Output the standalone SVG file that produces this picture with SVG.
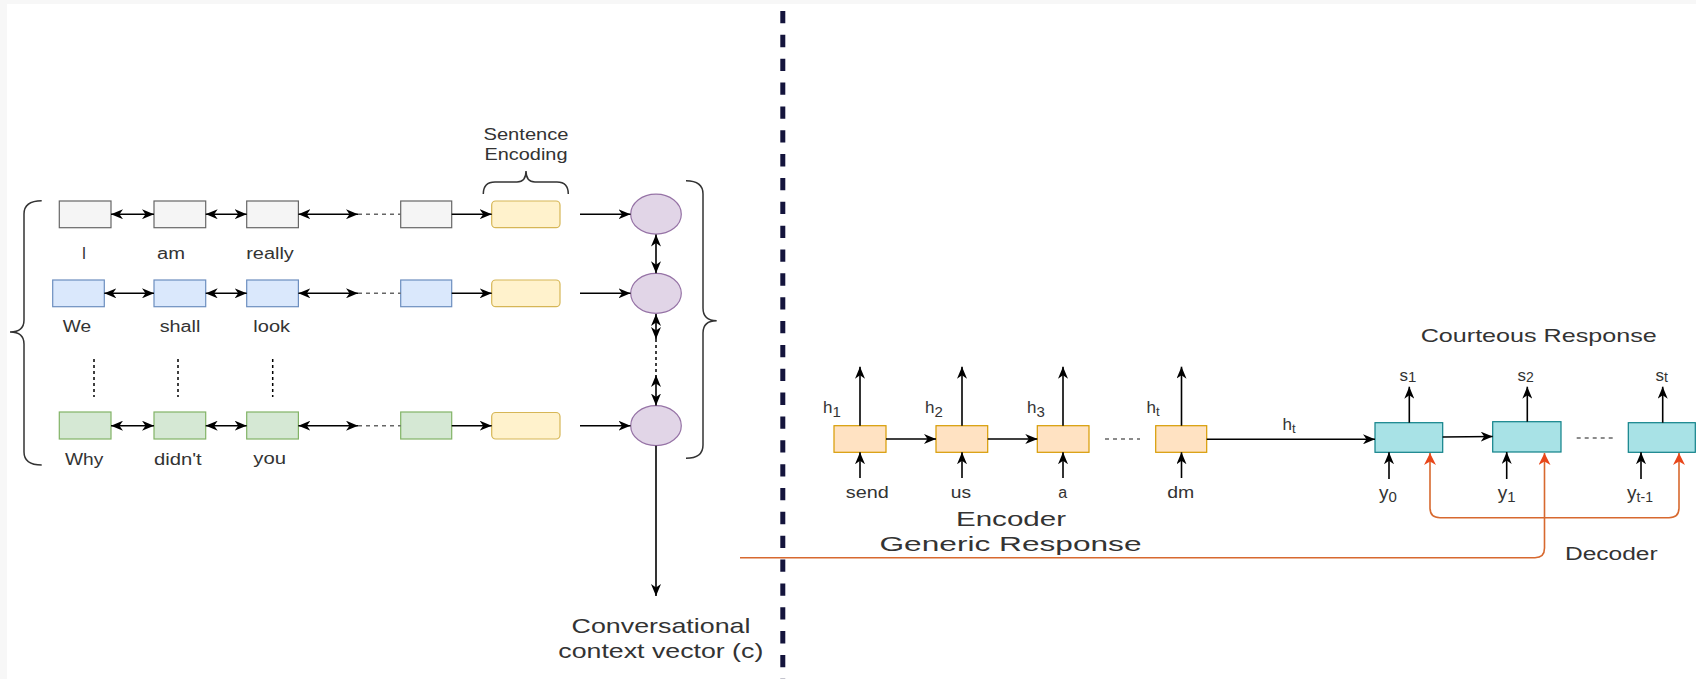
<svg xmlns="http://www.w3.org/2000/svg" width="1696" height="679" viewBox="0 0 1696 679">
<defs>
<marker id="ah" viewBox="0 0 12 10" refX="12" refY="5" markerWidth="12" markerHeight="10" markerUnits="userSpaceOnUse" orient="auto-start-reverse"><path d="M0,0 L12,5 L0,10 L3.5,5 z" fill="#000"/></marker>
<marker id="ao" viewBox="0 0 12 12" refX="12" refY="6" markerWidth="12" markerHeight="12" markerUnits="userSpaceOnUse" orient="auto-start-reverse"><path d="M0,0 L12,6 L0,12 L3.5,6 z" fill="#e8461a"/></marker>
<style>
.t{font-family:"Liberation Sans",Arial,sans-serif;fill:#333}
.s{font-size:16px;text-anchor:middle}
.m{font-size:17px;text-anchor:middle}
.big{font-size:21px;text-anchor:middle}
.lab{font-size:17px}
.gray{fill:#f5f5f5;stroke:#666;stroke-width:1.2}
.blue{fill:#dae8fc;stroke:#6c8ebf;stroke-width:1.2}
.green{fill:#d5e8d4;stroke:#82b366;stroke-width:1.2}
.yel{fill:#fff2cc;stroke:#d6b656;stroke-width:1.2}
.pur{fill:#e1d5e7;stroke:#9673a6;stroke-width:1.2}
.enc{fill:#ffe2c2;stroke:#d79b00;stroke-width:1.2}
.dec{fill:#a8e2e6;stroke:#0e8088;stroke-width:1.2}
.ln{stroke:#000;stroke-width:1.6;fill:none}
.dbl{marker-start:url(#ah);marker-end:url(#ah)}
.one{marker-end:url(#ah)}
.dsh{stroke:#666;stroke-width:1.5;stroke-dasharray:4 4;fill:none}
.dot{stroke:#000;stroke-width:1.5;stroke-dasharray:3 3;fill:none}
.or{stroke:#d7692f;stroke-width:1.6;fill:none}
.brace{stroke:#333;stroke-width:1.5;fill:none}
</style>
</defs>
<rect x="0" y="0" width="1696" height="679" fill="#f7f7f7"/>
<rect x="7" y="4" width="1689" height="675" fill="#ffffff"/>

<!-- divider -->
<line x1="782.8" y1="6" x2="782.8" y2="679" stroke="#14143c" stroke-width="5" stroke-dasharray="12.3 11.55" stroke-dashoffset="-5"/>

<!-- left: sentence rows -->
<g id="row1">
<rect class="gray" x="59.3" y="201" width="51.7" height="26.7"/>
<rect class="gray" x="154" y="201" width="51.7" height="26.7"/>
<rect class="gray" x="246.7" y="201" width="51.7" height="26.7"/>
<rect class="gray" x="400.7" y="201" width="51" height="26.7"/>
<text class="t s" x="84" y="259">I</text>
<text class="t s" x="171" y="259" textLength="28" lengthAdjust="spacingAndGlyphs">am</text>
<text class="t s" x="270" y="259" textLength="47.6" lengthAdjust="spacingAndGlyphs">really</text>
</g>
<g id="row2">
<rect class="blue" x="52.7" y="280" width="51.6" height="26.7"/>
<rect class="blue" x="154" y="280" width="51.7" height="26.7"/>
<rect class="blue" x="246.7" y="280" width="51.7" height="26.7"/>
<rect class="blue" x="400.7" y="280" width="51" height="26.7"/>
<text class="t s" x="77" y="332" textLength="28.3" lengthAdjust="spacingAndGlyphs">We</text>
<text class="t s" x="180" y="332" textLength="40.7" lengthAdjust="spacingAndGlyphs">shall</text>
<text class="t s" x="271.7" y="332" textLength="36.7" lengthAdjust="spacingAndGlyphs">look</text>
</g>
<g id="row3">
<rect class="green" x="59.3" y="412" width="51.7" height="27"/>
<rect class="green" x="154" y="412" width="51.7" height="27"/>
<rect class="green" x="246.7" y="412" width="51.7" height="27"/>
<rect class="green" x="400.7" y="412" width="51" height="27"/>
<text class="t s" x="84.2" y="465" textLength="38.3" lengthAdjust="spacingAndGlyphs">Why</text>
<text class="t s" x="177.8" y="465" textLength="47.7" lengthAdjust="spacingAndGlyphs">didn't</text>
<text class="t s" x="269.7" y="464" textLength="32.7" lengthAdjust="spacingAndGlyphs">you</text>
</g>
<g id="sentence-encoding">
<rect class="yel" x="491.7" y="201" width="68.3" height="26.7" rx="4"/>
<rect class="yel" x="491.7" y="280" width="68.3" height="26.7" rx="4"/>
<rect class="yel" x="491.7" y="412.5" width="68.3" height="26.5" rx="4"/>
<text class="t m" x="526" y="140" textLength="85" lengthAdjust="spacingAndGlyphs">Sentence</text>
<text class="t m" x="526" y="159.5" textLength="83" lengthAdjust="spacingAndGlyphs">Encoding</text>
<path class="brace" d="M483.3,194 Q483.3,182 495,182 L517,182 Q526,182 526,171 Q526,182 535,182 L557,182 Q568.3,182 568.3,194"/>
</g>
<g id="context">
<ellipse class="pur" cx="656" cy="214.2" rx="25.3" ry="20"/>
<ellipse class="pur" cx="656" cy="293.3" rx="25.3" ry="20"/>
<ellipse class="pur" cx="656" cy="425.7" rx="25.3" ry="20"/>
<text class="t big" x="661" y="633" textLength="179" lengthAdjust="spacingAndGlyphs">Conversational</text>
<text class="t big" x="660.8" y="658.3" textLength="205" lengthAdjust="spacingAndGlyphs">context vector (c)</text>
</g>
<g id="braces">
<path class="brace" d="M41.7,200.7 Q24,200.7 24,214 L24,320 Q24,332 10,332 Q24,332 24,344 L24,452 Q24,465 41.7,465"/>
<path class="brace" d="M686,180.7 Q703,180.7 703,194 L703,308 Q703,320.7 716.7,320.7 Q703,320.7 703,333 L703,445 Q703,458.3 686,458.3"/>
</g>
<g id="vdots">
<line class="dot" x1="94" y1="359" x2="94" y2="397"/>
<line class="dot" x1="178" y1="359" x2="178" y2="397"/>
<line class="dot" x1="272.7" y1="359" x2="272.7" y2="397"/>
</g>

<!-- encoder -->
<g id="encoder">
<rect class="enc" x="834" y="425.7" width="52" height="26.6"/>
<rect class="enc" x="936" y="425.7" width="51.7" height="26.6"/>
<rect class="enc" x="1037.3" y="425.7" width="51.7" height="26.6"/>
<rect class="enc" x="1155.7" y="425.7" width="51" height="26.6"/>
<text class="t lab" x="823" y="413">h<tspan font-size="15" dy="4">1</tspan></text>
<text class="t lab" x="925" y="413">h<tspan font-size="15" dy="4">2</tspan></text>
<text class="t lab" x="1027" y="413">h<tspan font-size="15" dy="4">3</tspan></text>
<text class="t lab" x="1146.5" y="413">h<tspan font-size="13" dy="3">t</tspan></text>
<text class="t s" x="867.3" y="498" textLength="43" lengthAdjust="spacingAndGlyphs">send</text>
<text class="t s" x="961" y="498" textLength="20.3" lengthAdjust="spacingAndGlyphs">us</text>
<text class="t s" x="1062.7" y="498">a</text>
<text class="t s" x="1180.7" y="498" textLength="27" lengthAdjust="spacingAndGlyphs">dm</text>
<text class="t big" x="1011" y="526" textLength="110" lengthAdjust="spacingAndGlyphs">Encoder</text>
<text class="t big" x="1010.5" y="551" textLength="262" lengthAdjust="spacingAndGlyphs">Generic Response</text>
</g>

<!-- decoder -->
<g id="decoder">
<rect class="dec" x="1375" y="422.7" width="67.7" height="29.6"/>
<rect class="dec" x="1492.7" y="421.7" width="68.3" height="30.3"/>
<rect class="dec" x="1628.3" y="422.7" width="67" height="29.6"/>
<text class="t lab" x="1282.5" y="430">h<tspan font-size="13" dy="3">t</tspan></text>
<text class="t lab" x="1399.5" y="380.7">s<tspan font-size="15" dy="1">1</tspan></text>
<text class="t lab" x="1517.5" y="380.7">s<tspan font-size="14" dy="1">2</tspan></text>
<text class="t lab" x="1655.5" y="380.7">s<tspan font-size="14" dy="1">t</tspan></text>
<text class="t" font-size="19" text-anchor="middle" x="1388" y="499">y<tspan font-size="15" dy="3">0</tspan></text>
<text class="t" font-size="19" text-anchor="middle" x="1506.7" y="499">y<tspan font-size="15" dy="3">1</tspan></text>
<text class="t" font-size="19" text-anchor="middle" x="1640" y="499">y<tspan font-size="14" dy="3">t-1</tspan></text>
<text class="t" font-size="19" text-anchor="middle" x="1538.7" y="341.7" textLength="236" lengthAdjust="spacingAndGlyphs">Courteous Response</text>
<text class="t" font-size="18" text-anchor="middle" x="1611.3" y="560" textLength="92.7" lengthAdjust="spacingAndGlyphs">Decoder</text>
</g>

<g id="connectors">
<!-- row 1 -->
<line class="ln dbl" x1="111" y1="214.2" x2="154" y2="214.2"/>
<line class="ln dbl" x1="205.7" y1="214.2" x2="246.7" y2="214.2"/>
<line class="ln dbl" x1="298.4" y1="214.2" x2="358" y2="214.2"/>
<line class="dsh" x1="358" y1="214.2" x2="400.7" y2="214.2"/>
<line class="ln one" x1="451.7" y1="214.2" x2="491.7" y2="214.2"/>
<line class="ln one" x1="580" y1="214.2" x2="630.5" y2="214.2"/>
<!-- row 2 -->
<line class="ln dbl" x1="104.3" y1="293.3" x2="154" y2="293.3"/>
<line class="ln dbl" x1="205.7" y1="293.3" x2="246.7" y2="293.3"/>
<line class="ln dbl" x1="298.4" y1="293.3" x2="358" y2="293.3"/>
<line class="dsh" x1="358" y1="293.3" x2="400.7" y2="293.3"/>
<line class="ln one" x1="451.7" y1="293.3" x2="491.7" y2="293.3"/>
<line class="ln one" x1="580" y1="293.3" x2="630.5" y2="293.3"/>
<!-- row 3 -->
<line class="ln dbl" x1="111" y1="425.7" x2="154" y2="425.7"/>
<line class="ln dbl" x1="205.7" y1="425.7" x2="246.7" y2="425.7"/>
<line class="ln dbl" x1="298.4" y1="425.7" x2="358" y2="425.7"/>
<line class="dsh" x1="358" y1="425.7" x2="400.7" y2="425.7"/>
<line class="ln one" x1="451.7" y1="425.7" x2="491.7" y2="425.7"/>
<line class="ln one" x1="580" y1="425.7" x2="630.5" y2="425.7"/>
<!-- vertical between context nodes -->
<line class="ln dbl" x1="656" y1="234.5" x2="656" y2="273.3"/>
<line class="ln dbl" x1="656" y1="314" x2="656" y2="339"/>
<line class="dot" x1="656" y1="339" x2="656" y2="375"/>
<line class="ln dbl" x1="656" y1="375" x2="656" y2="405.5"/>
<line class="ln one" x1="656" y1="445.7" x2="656" y2="596"/>
<!-- encoder -->
<line class="ln one" x1="860" y1="425.7" x2="860" y2="366.7"/>
<line class="ln one" x1="962" y1="425.7" x2="962" y2="366.7"/>
<line class="ln one" x1="1063" y1="425.7" x2="1063" y2="366.7"/>
<line class="ln one" x1="1181.5" y1="425.7" x2="1181.5" y2="366.7"/>
<line class="ln one" x1="886" y1="439" x2="936" y2="439"/>
<line class="ln one" x1="987.7" y1="439" x2="1037.3" y2="439"/>
<line class="dsh" x1="1105" y1="439" x2="1140" y2="439"/>
<line class="ln one" x1="860" y1="478" x2="860" y2="452.3"/>
<line class="ln one" x1="962" y1="478" x2="962" y2="452.3" stroke="#777"/>
<line class="ln one" x1="1063" y1="478" x2="1063" y2="452.3" stroke="#777"/>
<line class="ln one" x1="1181.5" y1="478" x2="1181.5" y2="452.3"/>
<line class="ln one" x1="1206.7" y1="439.3" x2="1375" y2="439.3"/>
<!-- decoder -->
<line class="ln one" x1="1442.7" y1="437" x2="1492.7" y2="436.5"/>
<line class="dsh" x1="1576.7" y1="438" x2="1613.3" y2="438"/>
<line class="ln one" x1="1409.3" y1="422.7" x2="1409.3" y2="386.7"/>
<line class="ln one" x1="1527.3" y1="421.7" x2="1527.3" y2="386.7"/>
<line class="ln one" x1="1662.7" y1="422.7" x2="1662.7" y2="386.7"/>
<line class="ln one" x1="1389" y1="479" x2="1389" y2="452.3"/>
<line class="ln one" x1="1506.7" y1="479" x2="1506.7" y2="452"/>
<line class="ln one" x1="1641" y1="479" x2="1641" y2="452.3"/>
<!-- orange feedback lines -->
<path class="or" marker-start="url(#ao)" marker-end="url(#ao)" d="M1430,453 L1430,507.7 Q1430,517.7 1440,517.7 L1669,517.7 Q1679,517.7 1679,507.7 L1679,453"/>
<path class="or" marker-end="url(#ao)" d="M740,557.7 L1535,557.7 Q1544.5,557.7 1544.5,548 L1544.5,453"/>
</g>
</svg>
